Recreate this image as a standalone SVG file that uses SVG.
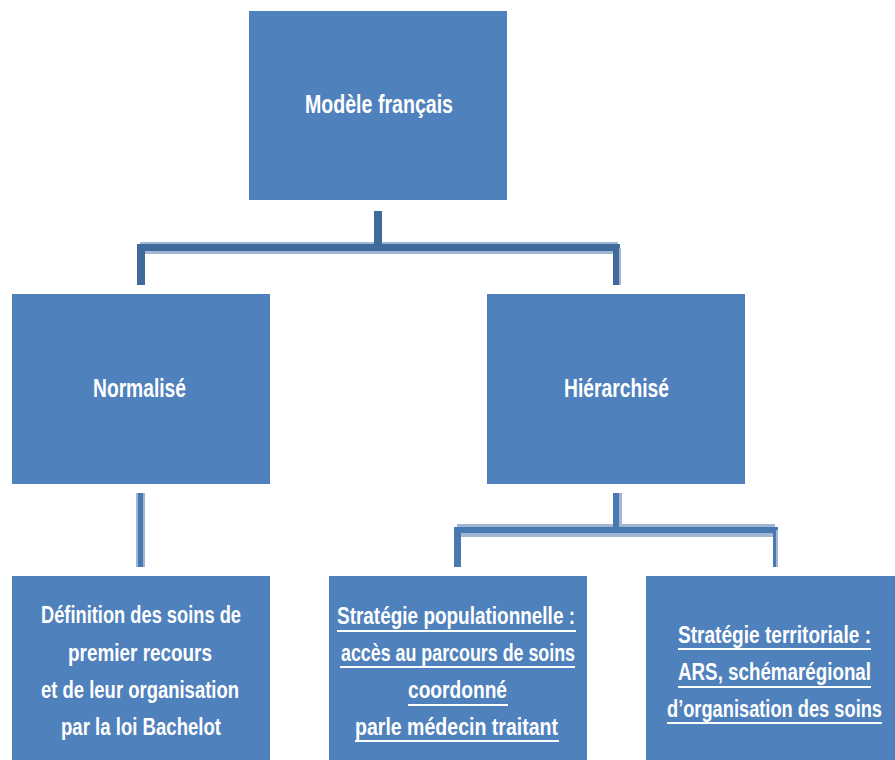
<svg xmlns="http://www.w3.org/2000/svg" width="895" height="760" viewBox="0 0 895 760">
<style>
.box{fill:#4F81BD}
.t{fill:#FFFFFF;font-family:"Liberation Sans Narrow","Liberation Sans",Arial,sans-serif;font-weight:bold;text-anchor:start}
.big{font-size:21px}
.sm{font-size:19px}
.dk{fill:#3F6A9C}
.dk2{fill:#4A78B0}
.lt{fill:#A0B6D2}
.ul{stroke:#FFFFFF;stroke-width:2}
</style>
<rect width="895" height="760" fill="#FFFFFF"/>
<g id="connectors">
  <rect class="lt" x="140" y="242" width="478" height="12"/>
  <rect class="dk" x="374" y="211" width="8" height="40"/>
  <rect class="dk" x="137" y="244" width="483" height="7"/>
  <rect class="dk" x="137" y="246" width="8" height="39"/>
  <rect class="dk" x="613" y="246" width="6" height="39"/>
  <rect class="lt" x="619" y="248" width="2" height="37"/>
  <rect class="lt" x="136" y="493" width="9" height="74"/>
  <rect class="dk2" x="138" y="493" width="5" height="74"/>
  <rect class="lt" x="457" y="524" width="318" height="13"/>
  <rect class="lt" x="619" y="493" width="3" height="37"/>
  <rect class="dk2" x="613" y="493" width="6" height="38"/>
  <rect class="dk2" x="454" y="527" width="324" height="6"/>
  <rect class="dk2" x="454" y="529" width="7" height="38"/>
  <rect class="dk2" x="773" y="529" width="3" height="38"/>
  <rect class="lt" x="776" y="530" width="2" height="37"/>
</g>
<g id="modele">
  <rect class="box" x="249" y="11" width="258" height="189"/>
  <text class="t big" transform="translate(305,113) scale(1,1.25)" textLength="148" lengthAdjust="spacingAndGlyphs">Modèle français</text>
</g>
<g id="normalise">
  <rect class="box" x="12" y="294" width="258" height="190"/>
  <text class="t big" transform="translate(93,397) scale(1,1.25)" textLength="93" lengthAdjust="spacingAndGlyphs">Normalisé</text>
</g>
<g id="hierarchise">
  <rect class="box" x="487" y="294" width="258" height="190"/>
  <text class="t big" transform="translate(564,397) scale(1,1.25)" textLength="105" lengthAdjust="spacingAndGlyphs">Hiérarchisé</text>
</g>
<g id="definition">
  <rect class="box" x="12" y="576" width="258" height="184"/>
  <text class="t sm" transform="translate(41,623) scale(1,1.25)" textLength="200" lengthAdjust="spacingAndGlyphs">Définition des soins de</text>
  <text class="t sm" transform="translate(68,661) scale(1,1.25)" textLength="144" lengthAdjust="spacingAndGlyphs">premier recours</text>
  <text class="t sm" transform="translate(41,698) scale(1,1.25)" textLength="198" lengthAdjust="spacingAndGlyphs">et de leur organisation</text>
  <text class="t sm" transform="translate(61,735) scale(1,1.25)" textLength="160" lengthAdjust="spacingAndGlyphs">par la loi Bachelot</text>
</g>
<g id="populationnelle">
  <rect class="box" x="329" y="576" width="258" height="184"/>
  <text class="t sm" transform="translate(337,624) scale(1,1.25)" textLength="238" lengthAdjust="spacingAndGlyphs">Stratégie populationnelle :</text>
  <line class="ul" x1="337" y1="631" x2="576" y2="631"/>
  <text class="t sm" transform="translate(341,661) scale(1,1.25)" textLength="234" lengthAdjust="spacingAndGlyphs">accès au parcours de soins</text>
  <line class="ul" x1="340" y1="667" x2="575" y2="667"/>
  <text class="t sm" transform="translate(408,698) scale(1,1.25)" textLength="99" lengthAdjust="spacingAndGlyphs">coordonné</text>
  <line class="ul" x1="408" y1="705" x2="508" y2="705"/>
  <text class="t sm" transform="translate(355,735) scale(1,1.25)" textLength="203" lengthAdjust="spacingAndGlyphs">parle médecin traitant</text>
  <line class="ul" x1="355" y1="741" x2="559" y2="741"/>
</g>
<g id="territoriale">
  <rect class="box" x="646" y="576" width="249" height="184"/>
  <text class="t sm" transform="translate(678,643) scale(1,1.25)" textLength="193" lengthAdjust="spacingAndGlyphs">Stratégie territoriale :</text>
  <line class="ul" x1="678" y1="649" x2="871" y2="649"/>
  <text class="t sm" transform="translate(678,680) scale(1,1.25)" textLength="193" lengthAdjust="spacingAndGlyphs">ARS, schémarégional</text>
  <line class="ul" x1="678" y1="687" x2="871" y2="687"/>
  <text class="t sm" transform="translate(667,717) scale(1,1.25)" textLength="215" lengthAdjust="spacingAndGlyphs">d’organisation des soins</text>
  <line class="ul" x1="667" y1="723" x2="882" y2="723"/>
</g>
</svg>
